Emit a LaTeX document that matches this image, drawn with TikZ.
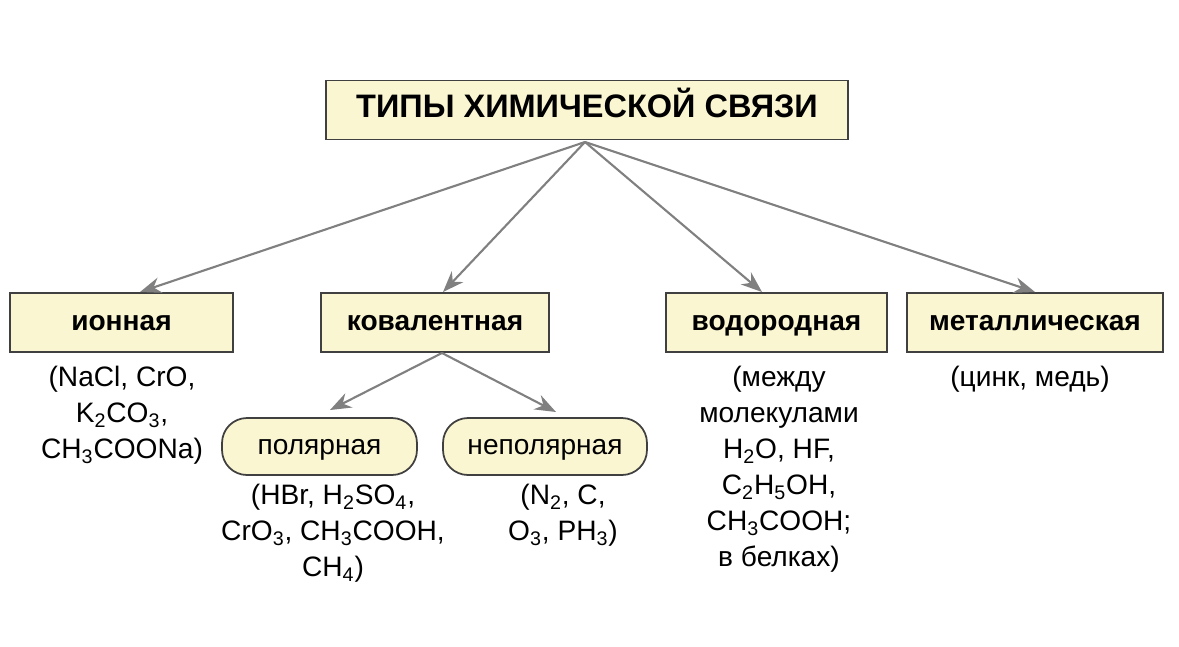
\documentclass[tikz,border=0pt]{standalone}
\usepackage{fontspec}
\usetikzlibrary{arrows.meta}
\setmainfont{Liberation Sans}
\newcommand\su[1]{\textsubscript{#1}}
\begin{document}
\begin{tikzpicture}[x=0.02cm,y=-0.02cm,
  box/.style={draw=black!75,line width=1pt,fill=boxfill,minimum height=1.18cm,text height=12pt,text depth=3pt,font=\fontsize{16}{18}\selectfont\bfseries},
  rbox/.style={draw=black!75,line width=1pt,fill=boxfill,rounded corners=0.5cm,minimum height=1.14cm,text height=12pt,text depth=3pt,font=\fontsize{16}{18}\selectfont},
  ex/.style={align=center,font=\fontsize{16}{20.5}\selectfont,anchor=north,inner sep=0pt},
  arr/.style={draw=black!50,line width=1.2pt,-{Stealth[length=12pt,width=9pt]}}]
\definecolor{boxfill}{HTML}{FBF6D2}
\useasboundingbox (0,0) rectangle (1179,646);
\node[box,minimum width=10.44cm,font=\fontsize{18.5}{22}\selectfont\bfseries] (t) at (587,110) {ТИПЫ ХИМИЧЕСКОЙ СВЯЗИ};
\node[box,minimum width=4.46cm] (i) at (121.5,322.5) {ионная};
\node[box,minimum width=4.56cm] (k) at (435,322.5) {ковалентная};
\node[box,minimum width=4.42cm] (v) at (776.5,322.5) {водородная};
\node[box,minimum width=5.12cm] (m) at (1035,322.5) {металлическая};
\node[rbox,minimum width=3.9cm] (p) at (319.5,446.5) {полярная};
\node[rbox,minimum width=4.08cm] (n) at (545,446.5) {неполярная};
\coordinate (ts) at (585,142);
\coordinate (ks) at (442,353);
\draw[arr] (ts) -- (140,292);
\draw[arr] (ts) -- (443,292);
\draw[arr] (ts) -- (762,292);
\draw[arr] (ts) -- (1035,292);
\draw[arr] (ks) -- (330,410);
\draw[arr] (ks) -- (556,412);
\node[ex] (ie) at (122,366) {(NaCl, CrO,\\K\su2CO\su3,\\CH\su3COONa)};
\node[ex] (pe) at (333,484) {(HBr, H\su2SO\su4,\\CrO\su3, CH\su3COOH,\\CH\su4)};
\node[ex] (ne) at (563,484) {(N\su2, C,\\O\su3, PH\su3)};
\node[ex] (ve) at (779,366) {(между\\молекулами\\H\su2O, HF,\\C\su2H\su5OH,\\CH\su3COOH;\\в белках)};
\node[ex] (me) at (1030,366) {(цинк, медь)};
\end{tikzpicture}
\end{document}
